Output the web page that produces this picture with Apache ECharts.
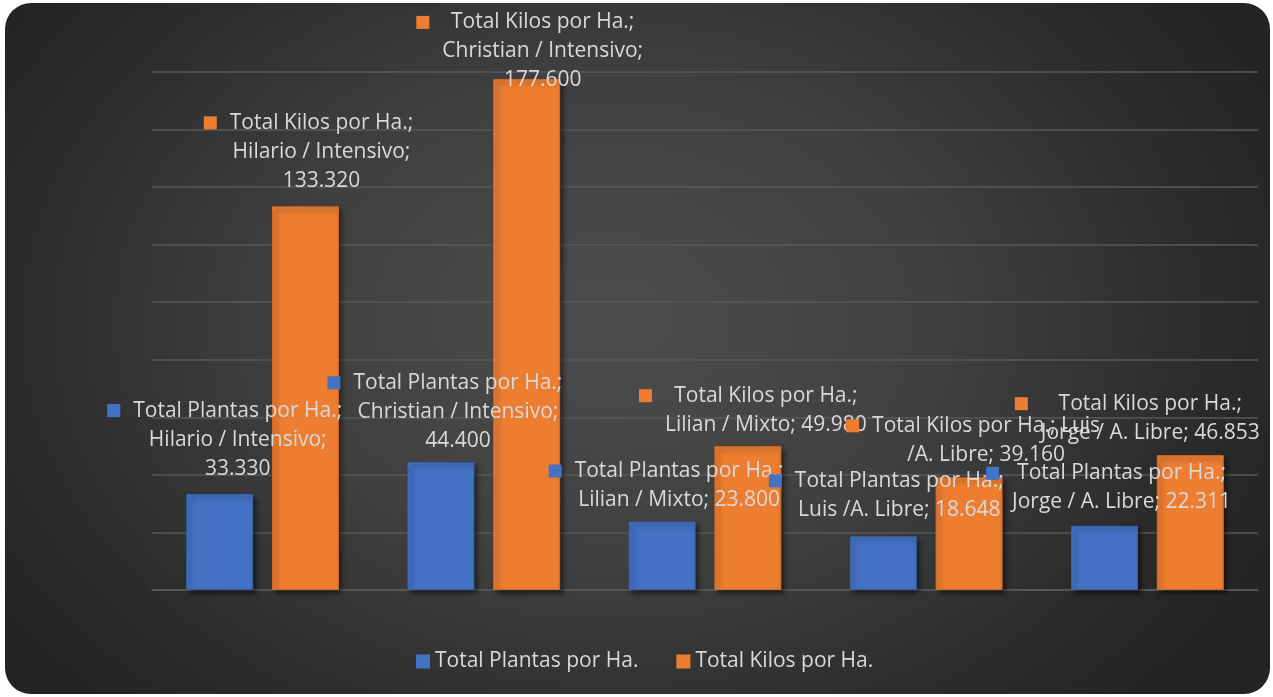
<!DOCTYPE html>
<html>
<head>
<meta charset="utf-8">
<script src="https://cdn.jsdelivr.net/npm/echarts@6/dist/echarts.min.js"></script>
<style>
  html, body { margin: 0; padding: 0; background: #ffffff; }
  #panel {
    position: absolute; left: 5px; top: 3px; width: 1265px; height: 691px;
    border-radius: 26px;
    background: radial-gradient(ellipse 58% 78% at 48% 46%, #4d4d4d 0%, #404040 45%, #2c2c2c 80%, #242424 100%);
  }
  #chart { position: absolute; left: 0; top: 0; width: 1273px; height: 697px; }
</style>
</head>
<body>
<div id="panel"></div>
<div id="chart"></div>
<script>
// Producers and production system
const categories = ['Hilario / Intensivo', 'Christian / Intensivo', 'Lilian / Mixto', 'Luis /A. Libre', 'Jorge / A. Libre'];
const seriesNames = ['Total Plantas por Ha.', 'Total Kilos por Ha.'];
const plantasPorHa = [33330, 44400, 23800, 18648, 22311];
const kilosPorHa = [133320, 177600, 49980, 39160, 46853];

// Label layout: word counts after which a line break goes, and label nudges
const plantasBreaks = [[4, 7], [4, 7], [4], [4], [4]];
const kilosBreaks = [[4, 7], [4, 7], [4], [5], [4]];
const plantasOffsets = [[18, -11], [17, -7], [17, -7], [16, -12], [17, -9]];
const kilosOffsets = [[16, -11], [16, 16], [18, -7], [17, -8], [-40, -8]];

const BLUE = '#4472C4';
const ORANGE = '#ED7D31';
const TEXT = '#d9d9d9';
const FONT = '"Open Sans", "Noto Sans", sans-serif';
const FONT_SIZE = 21;
const KEY = 13;      // legend key size inside data labels
const KEY_GAP = 13;  // space between key and the text block

const measureCtx = document.createElement('canvas').getContext('2d');
measureCtx.font = FONT_SIZE + 'px ' + FONT;
function textWidth(s) { return measureCtx.measureText(s).width; }

function fmt(v) {
  return String(Math.round(v)).replace(/\B(?=(\d{3})+(?!\d))/g, '.');
}

function splitLines(name, cat, value, breaks) {
  const words = (name + '; ' + cat + '; ' + fmt(value)).split(' ');
  const lines = [];
  let cur = [];
  words.forEach((w, i) => {
    cur.push(w);
    if (breaks.indexOf(i + 1) >= 0 || i === words.length - 1) { lines.push(cur.join(' ')); cur = []; }
  });
  return lines;
}

// Text lines stay centred; the key hangs to the left of the widest line
function makeLabel(name, cat, value, breaks, offset, color) {
  const lines = splitLines(name, cat, value, breaks);
  const widths = lines.map(textWidth);
  const maxW = Math.max.apply(null, widths);
  const g = KEY_GAP + (maxW - widths[0]) / 2;
  const p = KEY + g;
  const first = '{sq|}{gap|}' + lines[0] + '{pad|}';
  return {
    offset: offset,
    formatter: [first].concat(lines.slice(1)).join('\n'),
    rich: {
      sq: { width: KEY, height: KEY, backgroundColor: color, verticalAlign: 'middle' },
      gap: { width: g, height: KEY },
      pad: { width: p, height: KEY }
    }
  };
}

function makeData(values, breaks, offsets, name, color) {
  return values.map((v, i) => ({
    value: v,
    label: makeLabel(name, categories[i], v, breaks[i], offsets[i], color)
  }));
}

const labelBase = {
  show: true,
  position: 'top',
  distance: 0,
  align: 'center',
  color: TEXT,
  fontFamily: FONT,
  fontSize: FONT_SIZE,
  lineHeight: 29
};

function barStyle(color, border) {
  return {
    color: color,
    borderColor: border,
    borderWidth: 1,
    shadowBlur: 5,
    shadowColor: 'rgba(0,0,0,0.55)',
    shadowOffsetX: 3,
    shadowOffsetY: 3
  };
}

const chart = echarts.init(document.getElementById('chart'), null, { renderer: 'canvas' });
chart.setOption({
  backgroundColor: 'transparent',
  animation: false,
  grid: { left: 152, right: 15, top: 72, bottom: 107, containLabel: false },
  legend: {
    data: seriesNames,
    left: 416,
    top: 651,
    padding: 0,
    icon: 'rect',
    itemWidth: 14,
    itemHeight: 14,
    itemGap: 38,
    itemStyle: { shadowBlur: 0, shadowOffsetX: 0, shadowOffsetY: 0, borderWidth: 0 },
    textStyle: { color: TEXT, fontFamily: FONT, fontSize: FONT_SIZE }
  },
  xAxis: {
    type: 'category',
    data: categories,
    axisLine: { show: true, lineStyle: { color: '#595959', width: 1.5 } },
    axisTick: { show: false },
    axisLabel: { show: false }
  },
  yAxis: {
    type: 'value',
    min: 0,
    max: 180000,
    interval: 20000,
    axisLabel: { show: false },
    axisLine: { show: false },
    axisTick: { show: false },
    splitLine: { lineStyle: { color: '#595959', width: 1.5 } }
  },
  series: [
    {
      name: seriesNames[0],
      type: 'bar',
      barWidth: 67,
      barGap: '28%',
      itemStyle: barStyle(BLUE, '#3a62ab'),
      label: labelBase,
      data: makeData(plantasPorHa, plantasBreaks, plantasOffsets, seriesNames[0], BLUE)
    },
    {
      name: seriesNames[1],
      type: 'bar',
      barWidth: 67,
      itemStyle: barStyle(ORANGE, '#d46c26'),
      label: labelBase,
      data: makeData(kilosPorHa, kilosBreaks, kilosOffsets, seriesNames[1], ORANGE)
    }
  ]
});
</script>
</body>
</html>
